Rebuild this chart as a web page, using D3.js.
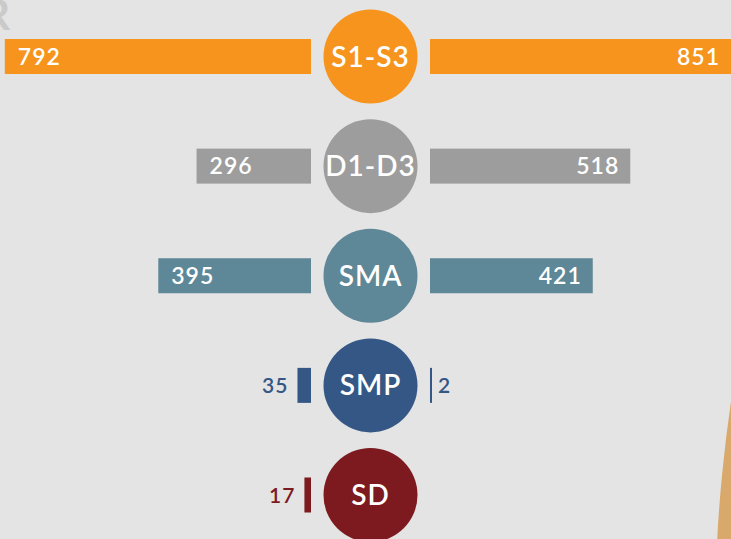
<!DOCTYPE html>
<html>
<head>
<meta charset="utf-8">
<script src="https://cdn.jsdelivr.net/npm/d3@7"></script>
<style>
  html, body { margin: 0; padding: 0; background: #e4e4e4; overflow: hidden; }
  svg { display: block; font-family: Lato, "Open Sans", sans-serif; }
</style>
</head>
<body>
<svg width="731" height="539"></svg>
<script>
// data
var categories = ["S1-S3", "D1-D3", "SMA", "SMP", "SD"];
var leftValues = [792, 296, 395, 35, 17];
var rightValues = [851, 518, 421, 2, null];
var colors = ["#f7941e", "#9d9d9d", "#5e8797", "#345785", "#7c1a1f"];

var svg = d3.select("svg"),
    width = +svg.attr("width"),
    height = +svg.attr("height");

var cx = 370.5, r = 47, gap = 59.5, barH = 35;

var y = d3.scalePoint()
    .domain(categories)
    .range([56.5, 495]);

var len = d3.scaleLinear()
    .domain([0, d3.max(rightValues.concat(leftValues))])
    .range([0, 329]);

var rows = categories.map(function(c, i) {
  return { cat: c, left: leftValues[i], right: rightValues[i], color: colors[i] };
});

// decorative bits
svg.append("text")
    .attr("x", 10).attr("y", 30)
    .attr("text-anchor", "end")
    .attr("font-size", 42)
    .attr("font-weight", 700)
    .attr("fill", "#cacaca")
    .text("R");

svg.append("circle")
    .attr("cx", 2215).attr("cy", 620).attr("r", 1500)
    .attr("fill", "#d9a96b");

var g = svg.selectAll("g.row")
    .data(rows)
    .enter().append("g")
    .attr("class", "row")
    .attr("transform", function(d) { return "translate(0," + y(d.cat) + ")"; });

// left bars
g.append("rect")
    .attr("x", function(d) { return cx - gap - Math.max(2, len(d.left)); })
    .attr("y", -barH / 2)
    .attr("width", function(d) { return Math.max(2, len(d.left)); })
    .attr("height", barH)
    .attr("fill", function(d) { return d.color; });

g.append("text")
    .attr("x", function(d) {
      var w = len(d.left);
      return w > 60 ? cx - gap - w + 13 : cx - gap - Math.max(2, w) - 9;
    })
    .attr("y", 8)
    .attr("text-anchor", function(d) { return len(d.left) > 60 ? "start" : "end"; })
    .attr("font-size", function(d) { return len(d.left) > 60 ? 23 : 21; })
    .attr("font-weight", 600)
    .attr("letter-spacing", 1)
    .attr("fill", function(d) { return len(d.left) > 60 ? "#fff" : d.color; })
    .text(function(d) { return d.left; });

// right bars
var gr = g.filter(function(d) { return d.right != null; });

gr.append("rect")
    .attr("x", cx + gap)
    .attr("y", -barH / 2)
    .attr("width", function(d) { return Math.max(2, len(d.right)); })
    .attr("height", barH)
    .attr("fill", function(d) { return d.color; });

gr.append("text")
    .attr("x", function(d) {
      var w = len(d.right);
      return w > 60 ? Math.min(cx + gap + w, width) - 11 : cx + gap + Math.max(2, w) + 6;
    })
    .attr("y", 8)
    .attr("text-anchor", function(d) { return len(d.right) > 60 ? "end" : "start"; })
    .attr("font-size", function(d) { return len(d.right) > 60 ? 23 : 21; })
    .attr("font-weight", 600)
    .attr("letter-spacing", 1)
    .attr("fill", function(d) { return len(d.right) > 60 ? "#fff" : d.color; })
    .text(function(d) { return d.right; });

// circles
g.append("circle")
    .attr("cx", cx)
    .attr("r", r)
    .attr("fill", function(d) { return d.color; });

g.append("text")
    .attr("x", cx)
    .attr("y", 10)
    .attr("text-anchor", "middle")
    .attr("font-size", 28)
    .attr("font-weight", 600)
    .attr("letter-spacing", 1)
    .attr("fill", "#fff")
    .text(function(d) { return d.cat; });
</script>
</body>
</html>
